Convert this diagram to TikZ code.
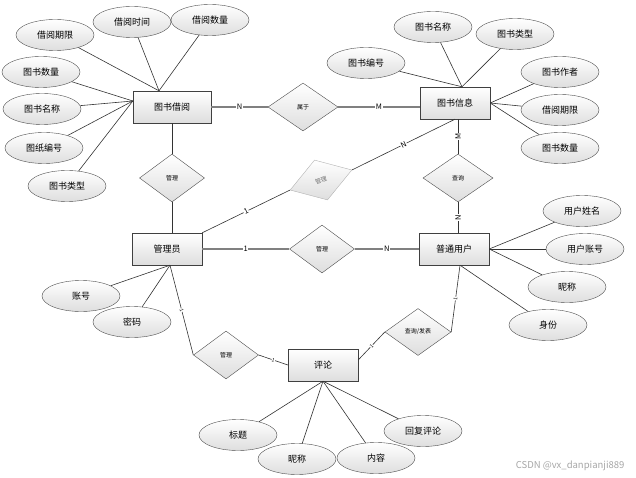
\documentclass[tikz,border=0pt]{standalone}
\usepackage{fontspec}
\setmainfont{Noto Sans CJK SC}
\usetikzlibrary{shapes.geometric,calc}

\begin{document}
\begin{tikzpicture}[x=1pt,y=-1pt,
    entity/.style={draw=black!75, top color=white, bottom color=black!13, minimum width=70pt, minimum height=32pt, font=\fontsize{9}{10}\selectfont},
    attr/.style={ellipse, draw=black!70, top color=white, bottom color=black!13, minimum width=78pt, minimum height=31pt, font=\fontsize{9}{10}\selectfont},
    rel/.style={diamond, draw=black!70, top color=white, bottom color=black!13, minimum width=65pt, minimum height=48pt, inner sep=0pt, font=\fontsize{6}{7}\selectfont},
    link/.style={draw=black!50, line width=1.2pt},
    thinlink/.style={draw=black!80, line width=0.6pt},
    card/.style={fill=white, inner sep=0.6pt, font=\fontsize{7.5}{8}\selectfont},
    tick/.style={fill=white, inner sep=0.3pt, font=\fontsize{5}{6}\selectfont}]
    \useasboundingbox (0,0) rectangle (636,478);

    \node[entity, minimum width=78pt] (jy) at (172,107) {图书借阅};
    \node[entity] (xx) at (455,103) {图书信息};
    \node[entity] (gly) at (167,249) {管理员};
    \node[entity] (yh) at (454,249) {普通用户};
    \node[entity] (pl) at (323,365) {评论};

    \node[rel, minimum width=70pt] (sy) at (303,107) {属于};
    \node[rel] (gl1) at (172,178) {管理};
    \node[rel, minimum width=70pt] (cx) at (458,178) {查询};
    \node[rel] (gl2) at (322,249) {管理};
    \node[rel] (gl3) at (226,355) {管理};
    \node[rel, minimum width=66pt, minimum height=47pt] (fb) at (418,332) {查询/发表};
    \node[rel, rotate=18, draw=black!30, text=black!55, minimum height=42pt] (gl4) at (321,180) {管理};

    \node[attr] (a1) at (55,35) {借阅期限};
    \node[attr] (a2) at (132,22) {借阅时间};
    \node[attr] (a3) at (210,20) {借阅数量};
    \node[attr] (a4) at (41,72) {图书数量};
    \node[attr] (a5) at (42,109) {图书名称};
    \node[attr] (a6) at (44,148) {图纸编号};
    \node[attr] (a7) at (67,186) {图书类型};

    \node[attr] (b1) at (366,63) {图书编号};
    \node[attr] (b2) at (433,27) {图书名称};
    \node[attr] (b3) at (515,34) {图书类型};
    \node[attr] (b4) at (560,72) {图书作者};
    \node[attr] (b5) at (560,110) {借阅期限};
    \node[attr] (b6) at (560,148) {图书数量};

    \node[attr] (c1) at (582,211) {用户姓名};
    \node[attr] (c2) at (585,249) {用户账号};
    \node[attr] (c3) at (567,287) {昵称};
    \node[attr] (c4) at (548,325) {身份};

    \node[attr] (d1) at (81,296) {账号};
    \node[attr] (d2) at (132,322) {密码};

    \node[attr] (e1) at (238,435) {标题};
    \node[attr] (e2) at (297,459) {昵称};
    \node[attr] (e3) at (376,458) {内容};
    \node[attr] (e4) at (423,431) {回复评论};

    \node[text=black!35, font=\fontsize{9.5}{10}\selectfont, anchor=east] (wm) at (628,466) {CSDN @vx\_danpianji889};

    \coordinate (jyL) at ([yshift=6pt]jy.west);
    \coordinate (jyT) at ([xshift=-13pt]jy.north);
    \coordinate (xxT) at ([xshift=7pt]xx.north);
    \coordinate (yhB) at ([xshift=6pt]yh.south);
    \coordinate (glyB) at ([xshift=3pt]gly.south);
    \coordinate (plR) at ([yshift=5pt]pl.east);

    \foreach \a in {a1,a2,a3} \draw[thinlink] (\a) -- (jyT);
    \foreach \a in {a4,a5,a6,a7} \draw[thinlink] (\a) -- (jyL);
    \foreach \b in {b1,b2,b3} \draw[thinlink] (\b) -- (xxT);
    \foreach \b in {b4,b5,b6} \draw[thinlink] (\b) -- (xx.east);
    \foreach \c in {c1,c2,c3} \draw[thinlink] (\c) -- (yh.east);
    \draw[thinlink] (c4) -- (yhB);
    \foreach \d in {d1,d2} \draw[thinlink] (\d) -- (glyB);
    \foreach \e in {e1,e2,e3,e4} \draw[thinlink] (\e) -- (pl.south);

    \draw[link] (jy) -- node[card]{N} (sy);
    \draw[link] (sy) -- node[card]{M} (sy -| xx.west);
    \draw[thinlink] (jy) -- (gl1);
    \draw[thinlink] (gl1) -- (gl1 |- gly.north);
    \draw[link] (gly) -- node[card]{1} (gl2);
    \draw[link] (gl2) -- node[card]{N} (yh);
    \draw[thinlink] (cx |- xx.south) -- node[card, rotate=90]{M} (cx);
    \draw[thinlink] (cx) -- node[card, rotate=90]{N} (cx |- yh.north);
    \draw[thinlink] (gly.north east) -- node[card, sloped]{1} (gl4.west);
    \draw[thinlink] (gl4.east) -- node[card, sloped]{N} (xx.south);
    \draw[thinlink] (glyB) -- node[tick, sloped]{1} (gl3.west);
    \draw[thinlink] (gl3.east) -- node[tick, sloped]{1} (pl.west);
    \draw[thinlink] (plR) -- node[tick, sloped]{1} (fb.west);
    \draw[thinlink] (fb.east) -- node[tick, sloped]{1} (yhB);
\end{tikzpicture}
\end{document}
